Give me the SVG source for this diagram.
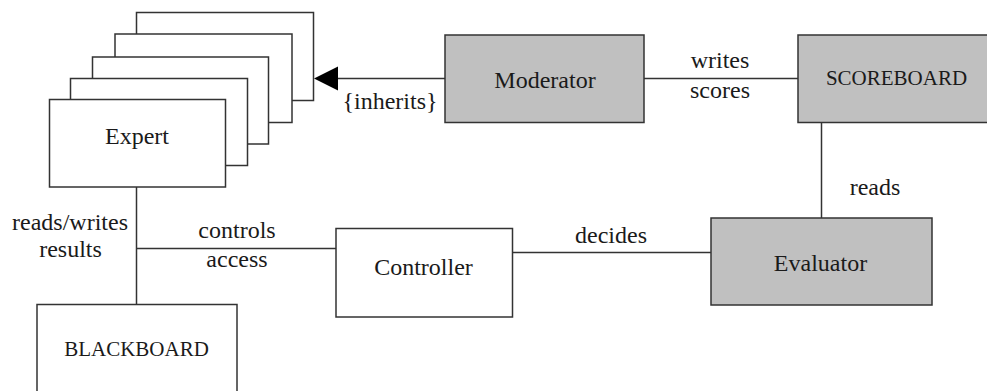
<svg xmlns="http://www.w3.org/2000/svg" width="987" height="391" viewBox="0 0 987 391">
<defs>
<style>
.box{fill:#ffffff;stroke:#333333;stroke-width:1.5}
.gray{fill:#c0c0c0;stroke:#333333;stroke-width:1.5}
.edge{fill:none;stroke:#333333;stroke-width:1.5}
.lbl,.cap{font-family:"Liberation Serif","Times New Roman",serif;fill:#1a1a1a;text-anchor:middle}
.lbl{font-size:24px}
.cap{font-size:21px}
</style>
</defs>
<rect width="987" height="391" fill="#ffffff"/>
<g id="connectors">
<line class="edge" x1="445" y1="78.5" x2="338" y2="78.5"/>
<path d="M338,66.5 L314,78.5 L338,90.5 Z" fill="#000000"/>
<line class="edge" x1="644" y1="78.5" x2="798" y2="78.5"/>
<line class="edge" x1="821.5" y1="122.5" x2="821.5" y2="218"/>
<line class="edge" x1="512.5" y1="252.5" x2="711" y2="252.5"/>
<line class="edge" x1="136.5" y1="248.5" x2="336" y2="248.5"/>
<line class="edge" x1="136.5" y1="187" x2="136.5" y2="304.5"/>
<text class="lbl" x="390" y="109">{inherits}</text>
<text class="lbl" x="720" y="68">writes</text>
<text class="lbl" x="720" y="97.5">scores</text>
<text class="lbl" x="875" y="195">reads</text>
<text class="lbl" x="611" y="243">decides</text>
<text class="lbl" x="237" y="237.5">controls</text>
<text class="lbl" x="237" y="266.5">access</text>
<text class="lbl" x="70" y="230">reads/writes</text>
<text class="lbl" x="70.5" y="257">results</text>
</g>
<g id="expert">
<rect class="box" x="136.5" y="12.5" width="177" height="88"/>
<rect class="box" x="115" y="34" width="177" height="88.5"/>
<rect class="box" x="92.5" y="57" width="176" height="87"/>
<rect class="box" x="70.5" y="78.5" width="177" height="87"/>
<rect class="box" x="49.5" y="99.5" width="176" height="87.5"/>
<text class="lbl" x="137" y="144">Expert</text>
</g>
<g id="moderator">
<rect class="gray" x="445" y="35" width="199" height="87.5"/>
<text class="lbl" x="545" y="88">Moderator</text>
</g>
<g id="scoreboard">
<rect class="gray" x="798" y="35" width="199" height="87.5"/>
<text class="cap" x="896.5" y="85">SCOREBOARD</text>
</g>
<g id="evaluator">
<rect class="gray" x="711" y="218" width="221" height="87"/>
<text class="lbl" x="820.5" y="270.5">Evaluator</text>
</g>
<g id="controller">
<rect class="box" x="336" y="228.5" width="176.5" height="88.5"/>
<text class="lbl" x="423.5" y="275">Controller</text>
</g>
<g id="blackboard">
<rect class="box" x="37" y="304.5" width="200" height="88"/>
<text class="cap" x="136.5" y="356">BLACKBOARD</text>
</g>
</svg>
